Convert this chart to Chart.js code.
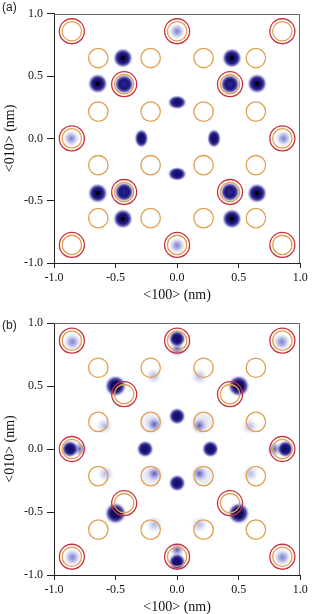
<!DOCTYPE html>
<html><head><meta charset="utf-8">
<script src="https://cdn.jsdelivr.net/npm/chart.js@4/dist/chart.umd.min.js"></script>
<style>
html,body{margin:0;padding:0;background:#fff;}
#wrap{position:relative;width:314px;height:614px;overflow:hidden;background:#fff;}
canvas{position:absolute;left:0;}
.lab{position:absolute;left:2px;font:12px "Liberation Sans",Arial,sans-serif;color:#222;line-height:14px;}
</style></head><body>
<div id="wrap">
<canvas id="ca" width="314" height="307" style="top:0"></canvas>
<canvas id="cb" width="314" height="307" style="top:307px"></canvas>
<div class="lab" style="top:0px">(a)</div>
<div class="lab" style="top:318px">(b)</div>
</div>
<script>
// ---- data (nm) ----
const tickValues = [-1.0, -0.5, 0.0, 0.5, 1.0];
const xTitle = '<100> (nm)';
const yTitle = '<010> (nm)';

// open orange circles
const orangeOpen = [
  [-0.64, 0.645], [-0.215, 0.645], [0.215, 0.645], [0.64, 0.645],
  [-0.64, 0.215], [-0.215, 0.215], [0.215, 0.215], [0.64, 0.215],
  [-0.64, -0.215], [-0.215, -0.215], [0.215, -0.215], [0.64, -0.215],
  [-0.64, -0.64], [-0.215, -0.64], [0.215, -0.64], [0.64, -0.64]
];
// sites with red outer + orange inner ring
const ringSites = [
  [-0.855, 0.86], [0, 0.86], [0.855, 0.86],
  [-0.855, 0], [0.855, 0],
  [-0.855, -0.855], [0, -0.855], [0.855, -0.855],
  [-0.43, 0.435], [0.43, 0.435], [-0.43, -0.43], [0.43, -0.43]
];

// panel (a) densities
const aDotBlobs = [[-0.44, 0.645], [0.445, 0.645], [-0.645, 0.44], [0.65, 0.44],
                   [-0.645, -0.44], [0.65, -0.44], [-0.44, -0.645], [0.445, -0.645]];
const aRingBlobs = [[-0.43, 0.435], [0.43, 0.435], [-0.43, -0.43], [0.43, -0.43]];
const aHorizBlobs = [[0, 0.29], [0, -0.285]];
const aVertBlobs = [[-0.29, 0], [0.3, 0]];
const aLightBlobs = [[0, 0.86], [-0.86, 0], [0.865, 0], [0, -0.86]];

// panel (b) densities
const bBigBlobs = [[-0.5, 0.5], [0.5, 0.5], [-0.5, -0.51], [0.5, -0.51]];
const bMidBlobs = [[0, 0.26], [0, -0.27], [-0.26, 0], [0.27, 0]];
const bEdgeBlobs = [[-0.87, 0], [0.88, 0], [0, 0.875], [0, -0.895]];
const bTailBlobs = [[-0.79, 0], [0.79, 0], [0, 0.79], [0, -0.8]];
const bCornerBlobs = [[-0.85, 0.85], [0.85, 0.85], [-0.85, -0.86], [0.855, -0.86]];
const bInnerBlobs = [[-0.185, 0.195], [0.18, 0.185], [-0.185, -0.195], [0.18, -0.195]];
const bHaloBlobs = [[-0.21, 0.21], [0.21, 0.21], [-0.21, -0.21], [0.21, -0.21]];
const bFaintBlobs = [[-0.19, 0.58], [0.18, 0.575], [-0.185, -0.6], [0.18, -0.6],
                     [-0.59, 0.185], [0.59, 0.18], [-0.58, -0.195], [0.595, -0.195]];

// ---- sprites ----
function sprite(rx, ry, stops, dotR) {
  const R = Math.max(rx, ry);
  const c = document.createElement('canvas');
  c.width = Math.ceil(rx * 2) + 2; c.height = Math.ceil(ry * 2) + 2;
  const g = c.getContext('2d');
  g.translate(c.width / 2, c.height / 2);
  g.save();
  g.scale(rx / R, ry / R);
  const gr = g.createRadialGradient(0, 0, 0, 0, 0, R);
  stops.forEach(s => gr.addColorStop(s[0], s[1]));
  g.fillStyle = gr;
  g.beginPath(); g.arc(0, 0, R, 0, Math.PI * 2); g.fill();
  g.restore();
  if (dotR) {
    const d = g.createRadialGradient(0, 0, 0, 0, 0, dotR);
    d.addColorStop(0, 'rgba(0,0,0,1)'); d.addColorStop(0.65, 'rgba(0,0,10,0.95)'); d.addColorStop(1, 'rgba(0,0,40,0)');
    g.fillStyle = d; g.beginPath(); g.arc(0, 0, dotR, 0, Math.PI * 2); g.fill();
  }
  return c;
}
const darkStops = [[0, 'rgba(22,12,100,1)'], [0.5, 'rgba(28,20,125,1)'], [0.72, 'rgba(55,50,155,0.8)'], [0.88, 'rgba(120,120,205,0.3)'], [1, 'rgba(170,170,230,0)']];
const ringStops = [[0, 'rgba(45,35,140,1)'], [0.5, 'rgba(28,20,120,1)'], [0.72, 'rgba(55,50,155,0.8)'], [0.88, 'rgba(120,120,205,0.3)'], [1, 'rgba(170,170,230,0)']];
const lightStops = [[0, 'rgba(105,110,195,0.9)'], [0.4, 'rgba(135,140,212,0.65)'], [0.75, 'rgba(170,170,228,0.25)'], [1, 'rgba(200,200,240,0)']];
const medStops = [[0, 'rgba(70,70,170,0.9)'], [0.4, 'rgba(110,110,200,0.6)'], [0.75, 'rgba(160,160,225,0.25)'], [1, 'rgba(200,200,240,0)']];
const faintStops = [[0, 'rgba(135,140,212,0.65)'], [0.5, 'rgba(160,165,222,0.35)'], [1, 'rgba(200,200,240,0)']];
const haloStops = [[0, 'rgba(150,150,220,0.35)'], [0.6, 'rgba(170,170,228,0.2)'], [1, 'rgba(200,200,240,0)']];
const bigStops = [[0, 'rgba(12,6,70,1)'], [0.45, 'rgba(22,14,105,1)'], [0.7, 'rgba(50,45,150,0.8)'], [0.87, 'rgba(120,120,205,0.3)'], [1, 'rgba(170,170,230,0)']];

const S = {
  dot: sprite(10, 10, darkStops, 2.9),
  ring: sprite(10, 10, ringStops, 0),
  horiz: sprite(9.5, 7, darkStops, 0),
  vert: sprite(7, 9.5, darkStops, 0),
  light: sprite(8.5, 8.5, lightStops, 0),
  big: sprite(11, 11, bigStops, 0),
  mid: sprite(8.5, 8.5, darkStops, 0),
  edge: sprite(8.5, 8.5, darkStops, 0),
  tail: sprite(8, 8, medStops, 0),
  corner: sprite(9, 9, lightStops, 0),
  inner: sprite(8, 8, medStops, 0),
  halo: sprite(13, 13, haloStops, 0),
  faint: sprite(8.5, 8.5, faintStops, 0)
};

const pts = arr => arr.map(p => ({ x: p[0], y: p[1] }));
function blobSet(arr, img, order) {
  return { data: pts(arr), pointStyle: img, pointRadius: 5, order: order, showLine: false };
}
function ringSets() {
  return [
    { data: pts(ringSites), pointStyle: 'circle', pointRadius: 12.5, pointBorderWidth: 1.3,
      pointBorderColor: '#c8323e', pointBackgroundColor: 'rgba(0,0,0,0)', order: 0 },
    { data: pts(ringSites.concat(orangeOpen)), pointStyle: 'circle', pointRadius: 9.7, pointBorderWidth: 1.3,
      pointBorderColor: '#e0a04e', pointBackgroundColor: 'rgba(0,0,0,0)', order: 1 }
  ];
}

const frame = {
  id: 'frame',
  afterDraw(chart) {
    const { ctx, chartArea: a } = chart;
    ctx.save();
    ctx.strokeStyle = '#666'; ctx.lineWidth = 1;
    ctx.beginPath();
    ctx.moveTo(a.left, Math.round(a.top) + 0.5);
    ctx.lineTo(Math.round(a.right) - 0.5, Math.round(a.top) + 0.5);
    ctx.lineTo(Math.round(a.right) - 0.5, a.bottom);
    ctx.stroke();
    ctx.restore();
  }
};

function axis(title, horizontal) {
  return {
    type: 'linear', min: -1, max: 1,
    afterBuildTicks: s => { s.ticks = tickValues.map(v => ({ value: v })); },
    afterFit: s => { if (horizontal) s.height = 39; else s.width = 54; },
    ticks: { callback: v => Number(v).toFixed(1), color: '#111', padding: horizontal ? 3 : 4,
      font: { family: '"Liberation Serif", "Times New Roman", serif', size: 12 }, maxRotation: 0, autoSkip: false },
    grid: { drawOnChartArea: false, drawTicks: true, tickLength: horizontal ? 5 : 7, color: '#222', lineWidth: 1 },
    border: { display: true, color: '#222', width: 1 },
    title: { display: true, text: title, color: '#111', padding: { top: horizontal ? 0 : 3, bottom: 0 },
      font: { family: '"Liberation Serif", "Times New Roman", serif', size: 14, lineHeight: 1 } }
  };
}

function makeChart(id, blobs, padTop, padBottom) {
  return new Chart(document.getElementById(id), {
    type: 'scatter',
    data: { datasets: ringSets().concat(blobs) },
    options: {
      responsive: false, animation: false, events: [],
      layout: { padding: { top: padTop, bottom: padBottom, left: 0, right: 7 } },
      plugins: { legend: { display: false }, tooltip: { enabled: false } },
      scales: { x: axis(xTitle, true), y: axis(yTitle, false) }
    },
    plugins: [frame]
  });
}

makeChart('ca', [
  blobSet(aDotBlobs, S.dot, 3),
  blobSet(aRingBlobs, S.ring, 3),
  blobSet(aHorizBlobs, S.horiz, 3),
  blobSet(aVertBlobs, S.vert, 3),
  blobSet(aLightBlobs, S.light, 3)
], 11, 5);

makeChart('cb', [
  blobSet(bBigBlobs, S.big, 3),
  blobSet(bMidBlobs, S.mid, 3),
  blobSet(bEdgeBlobs, S.edge, 3),
  blobSet(bTailBlobs, S.tail, 4),
  blobSet(bCornerBlobs, S.corner, 3),
  blobSet(bInnerBlobs, S.inner, 4),
  blobSet(bHaloBlobs, S.halo, 5),
  blobSet(bFaintBlobs, S.faint, 5)
], 16, 0);
</script>
</body></html>
